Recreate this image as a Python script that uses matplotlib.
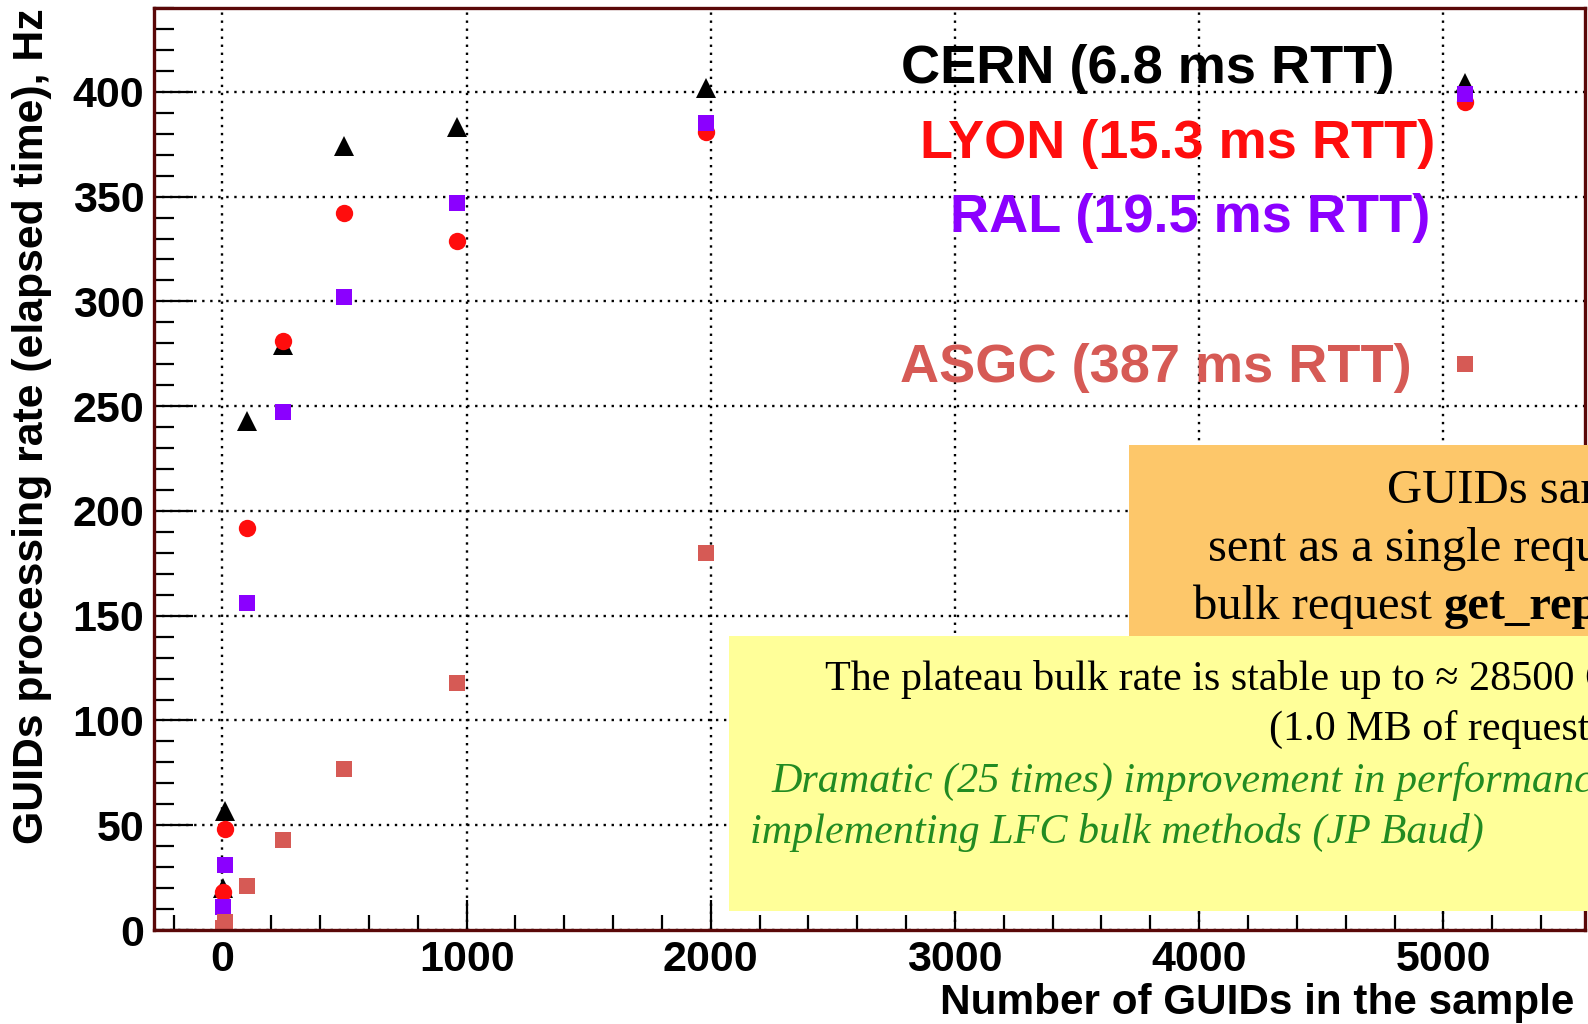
import matplotlib
matplotlib.use('Agg')
import matplotlib.pyplot as plt
from matplotlib.patches import Rectangle
from matplotlib.ticker import MultipleLocator

# sample sizes (number of GUIDs) and processing rates in Hz
guids = [1, 10, 100, 250, 500, 960, 1980, 5090]
cern = [20, 57, 243, 279, 374, 383, 402, 404]
lyon = [18, 48, 192, 281, 342, 329, 381, 395]
ral = [11, 31, 156, 247, 302, 347, 385, 399]
asgc = [1, 4, 21, 43, 77, 118, 180, 270]

site_labels = ['CERN (6.8 ms RTT)', 'LYON (15.3 ms RTT)', 'RAL (19.5 ms RTT)', 'ASGC (387 ms RTT)']
site_colors = ['black', '#ff0d0d', '#8b00ff', '#d65a55']

sans = ['Liberation Sans', 'DejaVu Sans']
serif = ['Liberation Serif', 'DejaVu Serif']

fig = plt.figure(figsize=(15.88, 10.24), dpi=100)
ax = fig.add_axes([154 / 1588, 94 / 1024, (1585 - 154) / 1588, (930 - 8) / 1024])

ax.plot(guids, cern, linestyle='none', marker='^', markersize=15, markeredgewidth=0, color=site_colors[0])
ax.plot(guids, lyon, linestyle='none', marker='o', markersize=12.5, markeredgewidth=0, color=site_colors[1])
ax.plot(guids, ral, linestyle='none', marker='s', markersize=12, markeredgewidth=0, color=site_colors[2])
ax.plot(guids, asgc, linestyle='none', marker='s', markersize=12, markeredgewidth=0, color=site_colors[3])

ax.set_xlim(-280, 5580)
ax.set_ylim(0, 440)
ax.xaxis.set_major_locator(MultipleLocator(1000))
ax.xaxis.set_minor_locator(MultipleLocator(200))
ax.yaxis.set_major_locator(MultipleLocator(50))
ax.yaxis.set_minor_locator(MultipleLocator(10))
ax.tick_params(which='both', direction='in', width=1.6, color='black', top=False, right=False)
ax.tick_params(axis='y', which='major', length=28, pad=7)
ax.tick_params(axis='y', which='minor', length=14.4)
ax.tick_params(axis='x', which='major', length=21.6, pad=7)
ax.tick_params(axis='x', which='minor', length=10.8)
for lbl in ax.get_xticklabels() + ax.get_yticklabels():
    lbl.set_family(sans)
    lbl.set_fontweight('bold')
    lbl.set_fontsize(31)

ax.grid(True, which='major', color='black', linestyle=(0, (1, 2.4)), linewidth=1.7)
for side in ['left', 'bottom', 'top', 'right']:
    ax.spines[side].set_color('#5a0808')
    ax.spines[side].set_linewidth(2.4)

# site legend written as coloured text
label_pos = [(4801, 404), (4967, 368.6), (4946, 333.3), (4871, 261.4)]
for txt, col, (lx, ly) in zip(site_labels, site_colors, label_pos):
    ax.text(lx, ly, txt, color=col, ha='right', va='baseline', fontsize=39,
            fontweight='bold', family=sans, zorder=4)

fig.text(0.0204, 0.5836, 'GUIDs processing rate (elapsed time), Hz', rotation=90,
         ha='center', va='center', fontsize=30.8, fontweight='bold', family=sans)
fig.text(0.9917, 0.0208, 'Number of GUIDs in the sample', ha='right', va='center',
         fontsize=30.4, fontweight='bold', family=sans)

# annotation boxes drawn over the plot (they run past the right edge, as in the slide)
fig.add_artist(Rectangle((0.711, 0.379), 0.35, 0.186, transform=fig.transFigure,
                         facecolor='#fdc76a', edgecolor='none', zorder=5))
fig.add_artist(Rectangle((0.459, 0.110), 0.6, 0.269, transform=fig.transFigure,
                         facecolor='#ffff99', edgecolor='none', zorder=5))

fig.text(0.8737, 0.5084, 'GUIDs sample', ha='left', va='baseline', fontsize=35,
         family=serif, zorder=6)
fig.text(0.7608, 0.452, 'sent as a single request', ha='left', va='baseline', fontsize=35,
         family=serif, zorder=6)
t1 = fig.text(0.7513, 0.3957, 'bulk request ', ha='left', va='baseline', fontsize=35,
              family=serif, zorder=6)
fig.add_artist(plt.Annotation('get_replicas()', xy=(1, 0), xycoords=t1, ha='left', va='bottom',
                              fontsize=35, fontweight='bold', family=serif, zorder=6))

fig.text(0.5198, 0.3264, 'The plateau bulk rate is stable up to \u2248 28500 GUIDs', ha='left',
         va='baseline', fontsize=30.3, family=serif, zorder=6)
fig.text(0.7991, 0.277, '(1.0 MB of request)', ha='left', va='baseline', fontsize=30.3,
         family=serif, zorder=6)
fig.text(0.486, 0.2265, 'Dramatic (25 times) improvement in performance after', ha='left',
         va='baseline', fontsize=30.3, style='italic', color='#228b22', family=serif, zorder=6)
fig.text(0.472, 0.177, 'implementing LFC bulk methods (JP Baud)', ha='left', va='baseline',
         fontsize=30.3, style='italic', color='#228b22', family=serif, zorder=6)

fig.savefig('out.png', dpi=100)
